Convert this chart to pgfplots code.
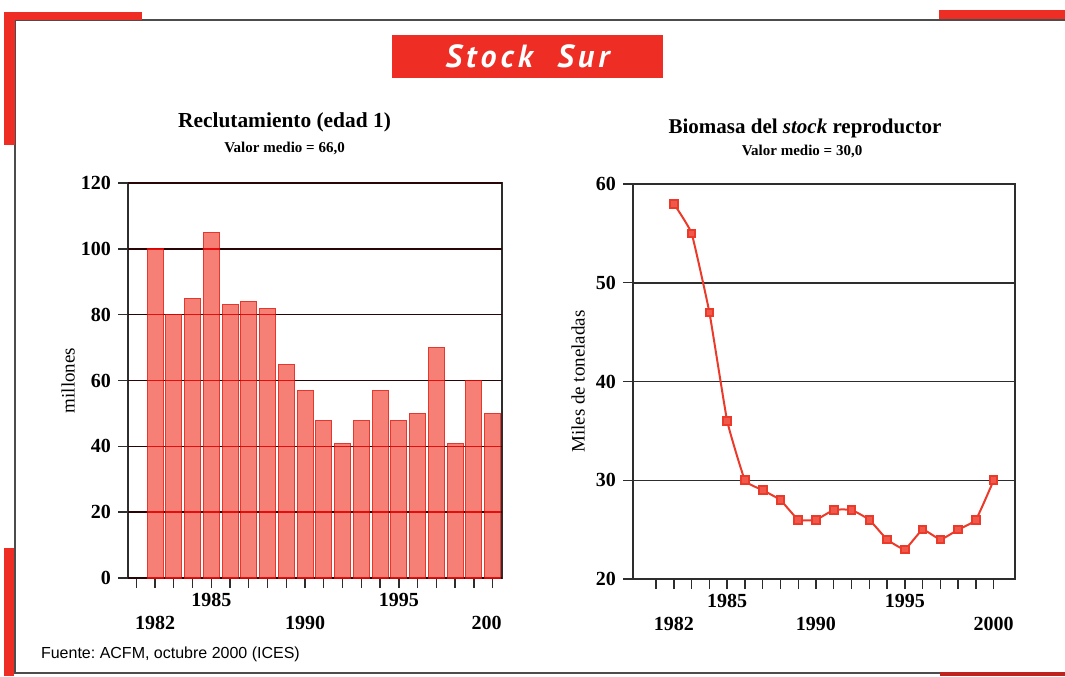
\documentclass[border=0pt]{standalone}
\usepackage{pgfplots}
\pgfplotsset{compat=1.18}
\usepackage{fontspec}
\setmainfont{Liberation Serif}
\setsansfont{Liberation Sans}
\newfontfamily\boxfont[LetterSpace=13]{PT Sans}
\definecolor{frred}{RGB}{238,45,36}
\definecolor{barfill}{RGB}{246,128,118}
\definecolor{baredge}{RGB}{228,55,45}
\definecolor{linered}{RGB}{236,58,42}
\definecolor{axgray}{RGB}{45,45,45}
\definecolor{gridred}{RGB}{235,30,30}
\pgfplotsset{
  mystyle/.style={
    scale only axis, anchor=south west,
    axis line style={axgray, line width=0.9pt},
    ymajorgrids, grid style={axgray, line width=0.75pt},
    tick style={axgray, line width=0.7pt},
    tick align=outside, major tick length=5pt,
    xtick pos=bottom, ytick pos=left,
    tick label style={font=\bfseries\fontsize{10}{12}\selectfont},
    /pgf/number format/assume math mode=true,
    xticklabel style={anchor=base, yshift=-20.5pt},
    extra x tick style={xticklabel style={yshift=11.5pt}},
    ylabel style={anchor=center, font=\fontsize{9.5}{11}\selectfont},
  }
}
\begin{document}
\begin{tikzpicture}
\path[use as bounding box] (0pt,0pt) rectangle (532.5pt,-338pt);
% frame
\draw[gray!60!black, line width=1pt] (7.5pt,-10pt) -- (532.5pt,-10pt);
\draw[gray!60!black, line width=1pt] (7.5pt,-10pt) -- (7.5pt,-336.5pt) -- (532.5pt,-336.5pt);
\fill[frred] (2pt,-6pt) rectangle (71pt,-9.8pt);
\fill[frred] (2pt,-6pt) rectangle (7.5pt,-72.5pt);
\fill[frred] (2pt,-274pt) rectangle (7pt,-338pt);
\fill[frred] (469.5pt,-5pt) rectangle (532.5pt,-9.3pt);
\fill[frred!80!black] (470pt,-336.2pt) rectangle (532.5pt,-338pt);
% title box
\fill[frred] (196pt,-17.5pt) rectangle (331.5pt,-39pt);
\node[white, font=\boxfont\bfseries\itshape\fontsize{16}{18}\selectfont] at (263.75pt,-28.25pt) {Stock\ \ Sur};
% titles
\node[anchor=base, font=\bfseries\fontsize{10.7}{12}\selectfont] at (142.25pt,-63.5pt) {Reclutamiento (edad 1)};
\node[anchor=base, font=\bfseries\fontsize{7.5}{9}\selectfont] at (142.25pt,-76pt) {Valor medio = 66,0};
\node[anchor=base, font=\bfseries\fontsize{10.5}{12}\selectfont] at (402.5pt,-66.5pt) {Biomasa del \textit{stock} reproductor};
\node[anchor=base, font=\bfseries\fontsize{7.5}{9}\selectfont] at (401pt,-77.5pt) {Valor medio = 30,0};
\node[anchor=base west, font=\sffamily\frenchspacing\fontsize{8}{10}\selectfont] at (17pt,-329pt) {Fuente: ACFM, octubre 2000 (ICES)};

% left chart
\begin{axis}[mystyle, at={(64pt,-289pt)}, width=187pt, height=197.5pt,
  xmin=1980.56, xmax=2000.5, ymin=0, ymax=120, ytick={0,20,...,120},
  xtick={1981,...,2000},
  xticklabels={,1982,,,,,,,,1990,,,,,,,,,,\makebox[0pt][r]{200\hspace{-4.5pt}}},
  extra x ticks={1985,1995}, extra x tick labels={1985,1995},
  ylabel={millones}, ylabel style={at={(axis description cs:-0.160,0.5)}}]
\addplot[ybar, bar width=0.85, fill=barfill, draw=baredge, line width=0.4pt] coordinates {
(1982,100) (1983,80) (1984,85) (1985,105) (1986,83) (1987,84) (1988,82) (1989,65)
(1990,57) (1991,48) (1992,41) (1993,48) (1994,57) (1995,48) (1996,50) (1997,70)
(1998,41) (1999,60) (2000,50)};
\end{axis}
\begin{scope}[blend mode=multiply]
\begin{axis}[scale only axis, anchor=south west, at={(64pt,-289pt)}, width=187pt, height=197.5pt,
  xmin=1980.56, xmax=2000.5, ymin=0, ymax=120, ytick={0,20,...,120},
  axis line style={draw=none}, major tick length=0pt, xtick=\empty,
  yticklabels={}, ymajorgrids, grid style={gridred, line width=0.75pt}]
\end{axis}
\end{scope}

% right chart
\begin{axis}[mystyle, at={(316.5pt,-289.5pt)}, width=191pt, height=197.5pt,
  xmin=1979.7, xmax=2001.2, ymin=20, ymax=60, ytick={20,30,...,60},
  xtick={1981,...,2000},
  xticklabels={,1982,,,,,,,,1990,,,,,,,,,,2000},
  extra x ticks={1985,1995}, extra x tick labels={1985,1995},
  ylabel={Miles de toneladas}, ylabel style={at={(axis description cs:-0.144,0.5)}}]
\addplot[linered, line width=1pt, smooth, tension=0.2, mark=square*, mark size=1.9pt,
  mark options={fill=linered!85!white, draw=linered, solid}] coordinates {
(1982,58) (1983,55) (1984,47) (1985,36) (1986,30) (1987,29) (1988,28) (1989,26)
(1990,26) (1991,27) (1992,27) (1993,26) (1994,24) (1995,23) (1996,25) (1997,24)
(1998,25) (1999,26) (2000,30)};
\end{axis}
\end{tikzpicture}
\end{document}
